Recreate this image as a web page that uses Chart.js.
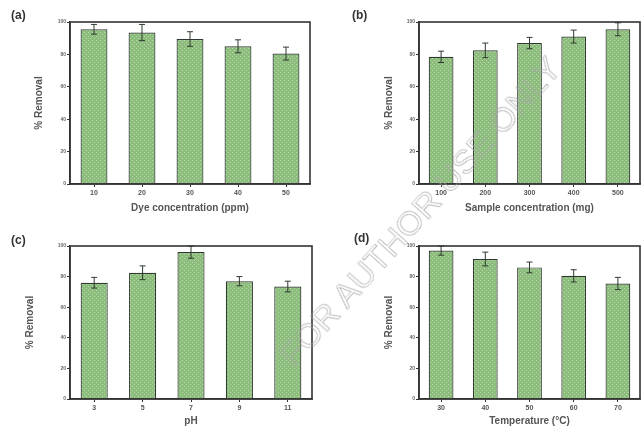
<!DOCTYPE html>
<html>
<head>
<meta charset="utf-8">
<script src="https://cdn.jsdelivr.net/npm/chart.js@4/dist/chart.umd.min.js"></script>
<style>
	html, body { margin: 0; padding: 0; background: #fff; }
	#page { position: relative; width: 644px; height: 427px; overflow: hidden; }
	canvas { position: absolute; }
	.tag { position: absolute; font: bold 12px "Liberation Sans", Arial, sans-serif; color: #333; }
	#mark {
		position: absolute; left: 200px; top: 192px; width: 440px; text-align: center;
		font: 34px "Liberation Sans", Arial, sans-serif; color: transparent;
		-webkit-text-stroke: 0.7px #a8a8a8; transform: rotate(-48deg); transform-origin: 50% 50%;
		pointer-events: none;
	}
</style>
</head>
<body>
<div id="page">
	<canvas id="cA" width="322" height="214" style="left:0;top:0"></canvas>
	<canvas id="cB" width="322" height="214" style="left:322px;top:0"></canvas>
	<canvas id="cC" width="322" height="213" style="left:0;top:214px"></canvas>
	<canvas id="cD" width="322" height="213" style="left:322px;top:214px"></canvas>
	<div class="tag" style="left:11px;top:8px">(a)</div>
	<div class="tag" style="left:352px;top:8px">(b)</div>
	<div class="tag" style="left:11px;top:233px">(c)</div>
	<div class="tag" style="left:354px;top:231px">(d)</div>
	<div id="mark">FOR AUTHOR USE ONLY</div>
</div>
<script>
// data
let dyeLabels = ['10', '20', '30', '40', '50']
let dyeRemoval = [95.5, 93.5, 89.5, 85, 80.5]
let dyeErr = [3, 5, 4.5, 4, 4]

let sampleLabels = ['100', '200', '300', '400', '500']
let sampleRemoval = [78.5, 82.5, 87, 91, 95.5]
let sampleErr = [3.5, 4.5, 3.5, 4, 4]

let phLabels = ['3', '5', '7', '9', '11']
let phRemoval = [76, 82.5, 96, 77, 73.5]
let phErr = [3.5, 4.5, 4, 3, 3.5]

let tempLabels = ['30', '40', '50', '60', '70']
let tempRemoval = [97, 91.5, 86, 80.5, 75.5]
let tempErr = [3, 4.5, 3.5, 4, 4]

let yMin = 0, yMax = 100, yStep = 20

let makePattern = () => {
	let p = document.createElement('canvas')
	p.width = 4
	p.height = 4
	let g = p.getContext('2d')
	g.fillStyle = '#8cbd7c'
	g.fillRect(0, 0, 4, 4)
	g.fillStyle = '#b8d9ab'
	g.fillRect(0, 0, 1, 1)
	g.fillRect(2, 2, 1, 1)
	return document.getElementById('cA').getContext('2d').createPattern(p, 'repeat')
}

let framePlugin = {
	id: 'frame',
	afterDatasetsDraw(chart) {
		let a = chart.chartArea, c = chart.ctx
		let y = chart.scales.y
		let err = chart.data.datasets[0].err
		let meta = chart.getDatasetMeta(0)
		c.save()
		c.strokeStyle = '#2f3a2f'
		c.lineWidth = 1
		meta.data.forEach((bar, i) => {
			let v = chart.data.datasets[0].data[i]
			let top = y.getPixelForValue(v + err[i])
			let bot = y.getPixelForValue(v - err[i])
			c.beginPath()
			c.moveTo(bar.x, top); c.lineTo(bar.x, bot)
			c.moveTo(bar.x - 3, top); c.lineTo(bar.x + 3, top)
			c.moveTo(bar.x - 3, bot); c.lineTo(bar.x + 3, bot)
			c.stroke()
		})
		c.strokeStyle = '#333'
		c.lineWidth = 1.6
		c.strokeRect(a.left, a.top, a.right - a.left, a.bottom - a.top)
		c.restore()
	}
}

let makeChart = (id, labels, values, err, xTitle, box) => {
	let font = 'Liberation Sans'
	return new Chart(document.getElementById(id), {
		type: 'bar',
		data: {
			labels: labels,
			datasets: [{
				data: values,
				err: err,
				backgroundColor: makePattern(),
				borderColor: '#2f3a2f',
				borderWidth: 1.2,
				categoryPercentage: 1,
				barPercentage: 0.56
			}]
		},
		options: {
			responsive: false,
			animation: false,
			layout: { padding: { top: box.top, right: box.right, left: 0, bottom: 0 } },
			plugins: { legend: { display: false }, tooltip: { enabled: false } },
			scales: {
				x: {
					offset: true,
					grid: { display: true, drawOnChartArea: false, tickLength: 3, color: '#333', offset: false },
					border: { color: '#333', width: 1.6 },
					ticks: { color: '#555', font: { family: font, size: 7, weight: 'bold' }, padding: 2 },
					title: { display: true, text: xTitle, color: '#555', font: { family: font, size: 10, weight: 'bold' }, padding: { top: 0, bottom: 0 } },
					afterFit: s => { s.height = box.xh }
				},
				y: {
					min: yMin,
					max: yMax,
					grid: { display: true, drawOnChartArea: false, tickLength: 3, color: '#333' },
					border: { color: '#333', width: 1.6 },
					ticks: { stepSize: yStep, color: '#666', font: { family: font, size: 5, weight: 'bold' }, padding: 1 },
					title: { display: true, text: '% Removal', color: '#555', font: { family: font, size: 10, weight: 'bold' }, padding: { top: box.ty, bottom: 0 } },
					afterFit: s => { s.width = box.left }
				}
			}
		},
		plugins: [framePlugin]
	})
}

makeChart('cA', dyeLabels, dyeRemoval, dyeErr, 'Dye concentration (ppm)', { top: 22, right: 12, left: 70, xh: 30, ty: 33 })
makeChart('cB', sampleLabels, sampleRemoval, sampleErr, 'Sample concentration (mg)', { top: 22, right: 4, left: 97, xh: 30, ty: 61 })
makeChart('cC', phLabels, phRemoval, phErr, 'pH', { top: 32, right: 10, left: 70, xh: 28, ty: 24 })
makeChart('cD', tempLabels, tempRemoval, tempErr, 'Temperature (°C)', { top: 32, right: 4, left: 97, xh: 28, ty: 61 })
</script>
</body>
</html>
